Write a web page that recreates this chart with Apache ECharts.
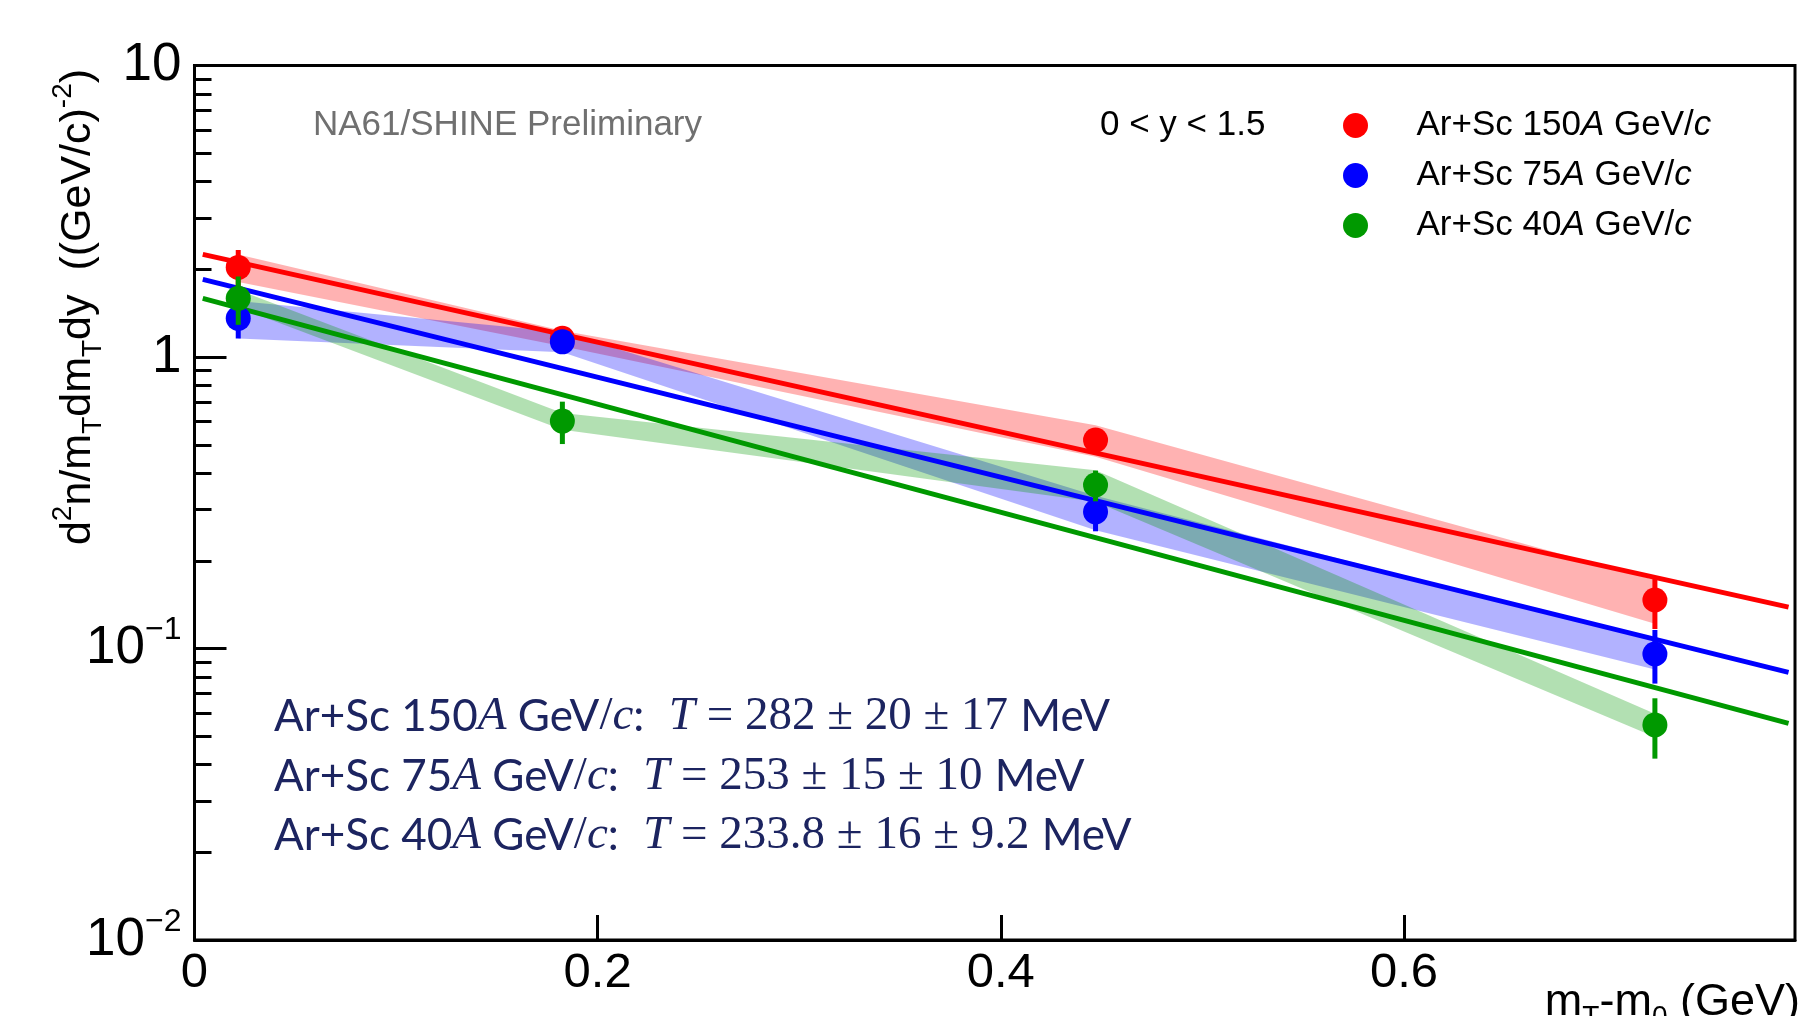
<!DOCTYPE html>
<html>
<head>
<meta charset="utf-8">
<title>Ar+Sc mT spectra</title>
<script src="https://cdn.jsdelivr.net/npm/echarts@6/dist/echarts.min.js"></script>
<style>
  html, body { margin: 0; padding: 0; background: #fff; }
  #chart { width: 1806px; height: 1016px; }
</style>
</head>
<body>
<div id="chart"></div>
<script>
// mT - m0 bin centres (GeV)
var mtBins = [0.0217, 0.1825, 0.447, 0.7245]

// d2n/(mT dmT dy), stat and sys errors
var y150 = [2.03, 1.16, 0.519, 0.1467]
var stat150 = [0.30, 0.04, 0.035, 0.030]
var sys150 = [0.22, 0.07, 0.064, 0.025]

var y75 = [1.358, 1.128, 0.2945, 0.0958]
var stat75 = [0.20, 0.04, 0.042, 0.020]
var sys75 = [0.20, 0.09, 0.04, 0.011]

var y40 = [1.59, 0.603, 0.364, 0.0547]
var stat40 = [0.30, 0.10, 0.044, 0.0128]
var sys40 = [0.11, 0.04, 0.045, 0.005]

// exponential fits, end points
var fitX = [0.0041, 0.7908]
var fit150 = [2.25, 0.1387]
var fit75 = [1.847, 0.0828]
var fit40 = [1.59, 0.0554]

var names = ['Ar+Sc 150A GeV/c', 'Ar+Sc 75A GeV/c', 'Ar+Sc 40A GeV/c']
var xTicks = [0, 0.2, 0.4, 0.6]
var yMajor = [0.01, 0.1, 1, 10]
var yMinor = [0.02, 0.03, 0.04, 0.05, 0.06, 0.07, 0.08, 0.09,
  0.2, 0.3, 0.4, 0.5, 0.6, 0.7, 0.8, 0.9,
  2, 3, 4, 5, 6, 7, 8, 9]

var RED = '#ff0000'
var BLUE = '#0000ff'
var GREEN = '#009900'
var NAVY = '#1c2460'

function bandSeries (ys, sys, color) {
  return {
    type: 'custom',
    z: 1,
    silent: true,
    data: [[mtBins[0], ys[0]]],
    renderItem: function (params, api) {
      var pts = []
      for (var i = 0; i < mtBins.length; i++) pts.push(api.coord([mtBins[i], ys[i] + sys[i]]))
      for (var j = mtBins.length - 1; j >= 0; j--) pts.push(api.coord([mtBins[j], ys[j] - sys[j]]))
      return { type: 'polygon', shape: { points: pts }, style: { fill: color } }
    }
  }
}

function fitSeries (ends, color) {
  return {
    type: 'line',
    z: 2,
    silent: true,
    symbol: 'none',
    data: [[fitX[0], ends[0]], [fitX[1], ends[1]]],
    lineStyle: { color: color, width: 5 }
  }
}

function errSeries (ys, err, color, z) {
  return {
    type: 'custom',
    z: z,
    silent: true,
    encode: { x: 0, y: [1, 2] },
    data: mtBins.map(function (x, i) { return [x, ys[i] - err[i], ys[i] + err[i]] }),
    renderItem: function (params, api) {
      var lo = api.coord([api.value(0), api.value(1)])
      var hi = api.coord([api.value(0), api.value(2)])
      return {
        type: 'line',
        shape: { x1: lo[0], y1: lo[1], x2: hi[0], y2: hi[1] },
        style: { stroke: color, lineWidth: 5 }
      }
    }
  }
}

function pointSeries (name, ys, color, z) {
  return {
    type: 'scatter',
    name: name,
    z: z,
    symbol: 'circle',
    symbolSize: 25,
    itemStyle: { color: color, opacity: 1 },
    data: mtBins.map(function (x, i) { return [x, ys[i]] })
  }
}

function yLabel (v) {
  if (v > 5) return '{b|10}'
  if (v > 0.5) return '{b|1}'
  if (v > 0.05) return '{b|10}{e|\u22121}'
  return '{b|10}{e|\u22122}'
}

var annoRich = {
  s: { fontFamily: 'Lato', fontSize: 44, color: NAVY },
  i: { fontFamily: 'Liberation Serif', fontStyle: 'italic', fontSize: 47, color: NAVY },
  m: { fontFamily: 'Liberation Serif', fontSize: 47, color: NAVY }
}

function annoText (y, energy, tval) {
  return {
    type: 'text',
    x: 274,
    y: y,
    style: {
      text: '{s|Ar+Sc ' + energy + '}{i|A}{s| GeV}{m|/}{i|c}{s|:}  {i|T}{m| = ' + tval + '} {s|MeV}',
      rich: annoRich,
      fontSize: 44,
      fill: NAVY,
      align: 'left',
      verticalAlign: 'middle'
    }
  }
}

var chart = echarts.init(document.getElementById('chart'))
var option = {
  animation: false,
  backgroundColor: '#fff',
  grid: {
    left: 194.5,
    right: 11,
    top: 65.6,
    bottom: 76,
    show: true,
    borderColor: '#000',
    borderWidth: 3
  },
  legend: {
    orient: 'vertical',
    left: 1338,
    top: 103,
    itemWidth: 112,
    itemHeight: 25,
    itemGap: 15,
    icon: 'circle',
    selectedMode: false,
    data: names,
    formatter: function (name) {
      var e = name.split(' ')[1].replace('A', '')
      return '{n|Ar+Sc ' + e + '}{i|A}{n| GeV/}{i|c}'
    },
    textStyle: {
      rich: {
        n: { fontFamily: 'Liberation Sans', fontSize: 35, color: '#000', lineHeight: 36 },
        i: { fontFamily: 'Liberation Sans', fontStyle: 'italic', fontSize: 35, color: '#000', lineHeight: 36 }
      }
    }
  },
  xAxis: {
    type: 'value',
    min: 0,
    max: 0.794,
    interval: 0.2,
    axisLine: { onZero: false, lineStyle: { color: '#000', width: 3 } },
    axisTick: { inside: true, length: 25, customValues: xTicks, lineStyle: { color: '#000', width: 3 } },
    axisLabel: {
      customValues: xTicks,
      margin: 9,
      fontFamily: 'Liberation Sans',
      fontSize: 49,
      color: '#000',
      formatter: function (v) { return v === 0 ? '0' : v.toFixed(1) }
    },
    splitLine: { show: false }
  },
  yAxis: [
    {
      type: 'log',
      logBase: 10,
      min: 0.01,
      max: 10,
      axisLine: { show: true, lineStyle: { color: '#000', width: 3 } },
      axisTick: { inside: true, length: 32, customValues: yMajor, lineStyle: { color: '#000', width: 3 } },
      axisLabel: {
        customValues: yMajor,
        margin: 13,
        formatter: yLabel,
        rich: {
          b: { fontFamily: 'Liberation Sans', fontSize: 53, color: '#000', lineHeight: 68 },
          e: { fontFamily: 'Liberation Sans', fontSize: 32, color: '#000', lineHeight: 32, verticalAlign: 'top' }
        }
      },
      splitLine: { show: false }
    },
    {
      type: 'log',
      logBase: 10,
      min: 0.01,
      max: 10,
      position: 'left',
      axisLine: { show: false },
      axisTick: { inside: true, length: 17, customValues: yMinor, lineStyle: { color: '#000', width: 3 } },
      axisLabel: { show: false },
      splitLine: { show: false }
    }
  ],
  graphic: [
    {
      type: 'text', x: 313, y: 125,
      style: { text: 'NA61/SHINE Preliminary', fontFamily: 'Liberation Sans', fontSize: 35, fill: '#707070', align: 'left', verticalAlign: 'middle' }
    },
    {
      type: 'text', x: 1100, y: 125,
      style: { text: '0 < y < 1.5', fontFamily: 'Liberation Sans', fontSize: 35, fill: '#000', align: 'left', verticalAlign: 'middle' }
    },
    annoText(717, '150', '282 \u00b1 20 \u00b1 17'),
    annoText(777, '75', '253 \u00b1 15 \u00b1 10'),
    annoText(836, '40', '233.8 \u00b1 16 \u00b1 9.2'),
    {
      type: 'text', x: 78, y: 307, rotation: Math.PI / 2,
      style: {
        text: '{t|d}{p|2}{t|n/m}{q|T}{t|dm}{q|T}{t|dy  ((GeV/c)}{p|-2}{t|)}',
        align: 'center',
        verticalAlign: 'middle',
        rich: {
          t: { fontFamily: 'Liberation Sans', fontSize: 43, color: '#000', lineHeight: 58 },
          p: { fontFamily: 'Liberation Sans', fontSize: 28, color: '#000', lineHeight: 28, verticalAlign: 'top' },
          q: { fontFamily: 'Liberation Sans', fontSize: 28, color: '#000', lineHeight: 28, verticalAlign: 'bottom' }
        }
      }
    },
    {
      type: 'text', x: 1800, y: 975,
      style: {
        text: '{t|m}{q|T}{t|-m}{q|0}{t| (GeV)}',
        align: 'right',
        verticalAlign: 'top',
        rich: {
          t: { fontFamily: 'Liberation Sans', fontSize: 45, color: '#000', lineHeight: 56 },
          q: { fontFamily: 'Liberation Sans', fontSize: 28, color: '#000', lineHeight: 28, verticalAlign: 'bottom' }
        }
      }
    }
  ],
  series: [
    bandSeries(y150, sys150, 'rgba(255,0,0,0.3)'),
    bandSeries(y75, sys75, 'rgba(0,0,255,0.3)'),
    bandSeries(y40, sys40, 'rgba(0,153,0,0.3)'),
    fitSeries(fit150, RED),
    fitSeries(fit75, BLUE),
    fitSeries(fit40, GREEN),
    errSeries(y150, stat150, RED, 3),
    pointSeries(names[0], y150, RED, 4),
    errSeries(y75, stat75, BLUE, 5),
    pointSeries(names[1], y75, BLUE, 6),
    errSeries(y40, stat40, GREEN, 7),
    pointSeries(names[2], y40, GREEN, 8)
  ]
}
chart.setOption(option)
</script>
</body>
</html>
